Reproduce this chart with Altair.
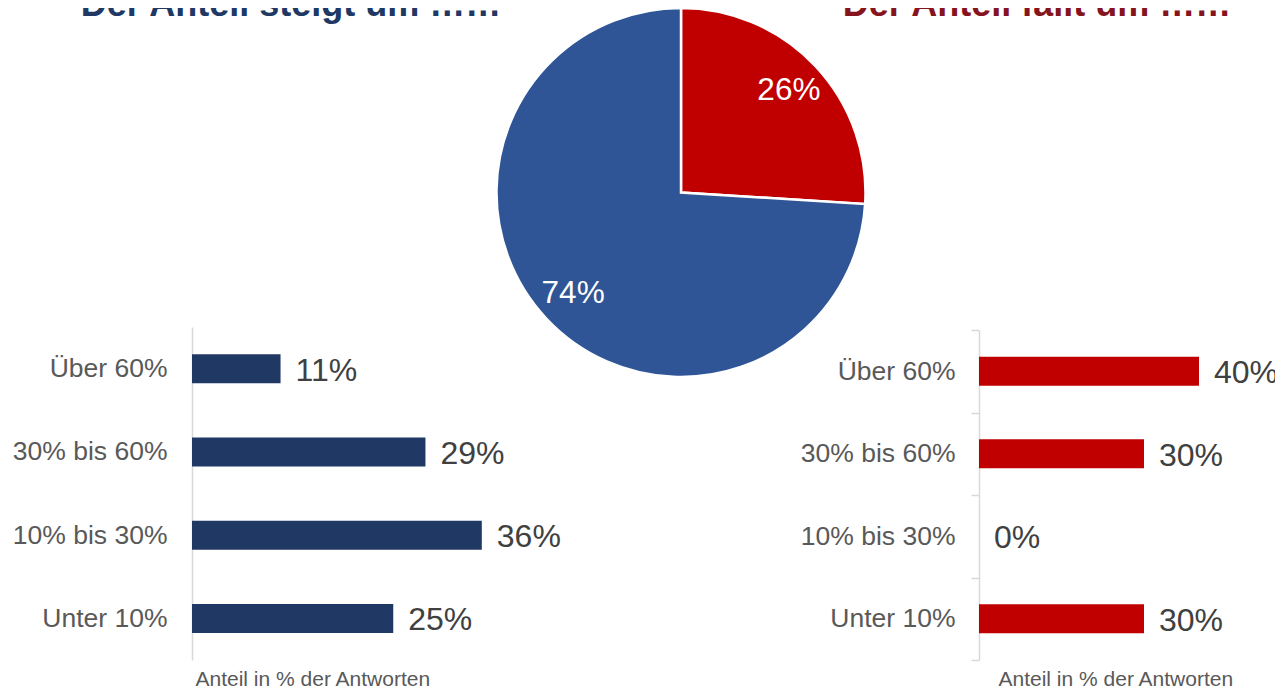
import altair as alt
import pandas as pd

# ---- data ----
categories = ["Über 60%", "30% bis 60%", "10% bis 30%", "Unter 10%"]
rise_values = [11, 29, 36, 25]
fall_values = [40, 30, 0, 30]
pie_groups = ["Der Anteil fällt", "Der Anteil steigt"]
pie_values = [26, 74]
titles = ["Der Anteil steigt um ……", "Der Anteil fällt um ……"]
title_sides = ["links", "rechts"]
axis_title = "Anteil in % der Antworten"

FONT = "Liberation Sans"
W, H = 1267, 680

left_df = pd.DataFrame({"cat": categories, "value": rise_values})
right_df = pd.DataFrame({"cat": categories, "value": fall_values})
pie_df = pd.DataFrame({"group": pie_groups, "value": pie_values, "order": [0, 1]})
title_df = pd.DataFrame({"t": titles, "side": title_sides})


def bar_panel(df, color, x_range, y_range, axis_offset, ticks, label_pad, title_x):
    base = alt.Chart(df).encode(
        y=alt.Y(
            "cat:N",
            sort=categories,
            scale=alt.Scale(domain=categories, range=y_range, paddingInner=0, paddingOuter=0),
            axis=alt.Axis(
                title=None, orient="left", offset=axis_offset,
                ticks=ticks, tickBand="extent", tickSize=8, tickColor="#d9d9d9", tickWidth=1.5,
                labelPadding=label_pad, domainColor="#d9d9d9", domainWidth=1.5,
                labelFont=FONT, labelFontSize=26.5, labelColor="#595959",
            ),
        ),
        x=alt.X(
            "value:Q",
            scale=alt.Scale(domain=[0, 40], range=x_range),
            axis=alt.Axis(
                orient="bottom", labels=False, ticks=False, domain=False, grid=False,
                title=axis_title, titleFont=FONT, titleFontSize=21, titleFontWeight="normal",
                titleColor="#595959", titleAnchor="start", titleAlign="left",
                titleX=title_x, titleY=-3, titleBaseline="alphabetic",
            ),
        ),
    )
    bars = base.mark_bar(size=29, color=color)
    text = base.transform_calculate(label="datum.value + '%'").mark_text(
        align="left", baseline="middle", dx=15, dy=2, font=FONT, fontSize=32, color="#404040"
    ).encode(text="label:N")
    return alt.layer(bars, text)


left_panel = bar_panel(left_df, "#203864", [184, 506], [319, 652], -184, False, 25, 187)
right_panel = bar_panel(right_df, "#C00000", [971, 1191], [322, 652], -971, True, 16, 990)

pie_base = alt.Chart(pie_df).encode(
    theta=alt.Theta("value:Q", stack=True),
    order=alt.Order("order:Q"),
    x=alt.value(673),
    y=alt.value(184.5),
)
arcs = pie_base.mark_arc(outerRadius=184.5, stroke="white", strokeWidth=2.5).encode(
    color=alt.Color("group:N", scale=alt.Scale(domain=pie_groups, range=["#C00000", "#2F5597"]), legend=None)
)
pie_text = pie_base.transform_calculate(label="datum.value + '%'").mark_text(
    radius=148, font=FONT, fontSize=31.5, color="white", align="center", baseline="middle"
).encode(text="label:N")
pie = alt.layer(arcs, pie_text)

title_layer = alt.Chart(title_df).mark_text(
    font=FONT, fontSize=36, fontWeight="bold", align="center", baseline="alphabetic"
).encode(
    x=alt.X("side:N", scale=alt.Scale(domain=title_sides, range=[283, 1029], type="point", padding=0), axis=None),
    y=alt.value(8),
    text="t:N",
    color=alt.Color("side:N", scale=alt.Scale(domain=title_sides, range=["#203864", "#85141F"]), legend=None),
)

chart = alt.layer(left_panel, right_panel, pie, title_layer).resolve_scale(
    x="independent", y="independent", color="independent", theta="independent"
).properties(
    width=W, height=H, padding=0,
    autosize=alt.AutoSizeParams(type="none"),
).configure_view(stroke=None)

chart.save("out.html", embed_options={"renderer": "svg", "actions": False})
